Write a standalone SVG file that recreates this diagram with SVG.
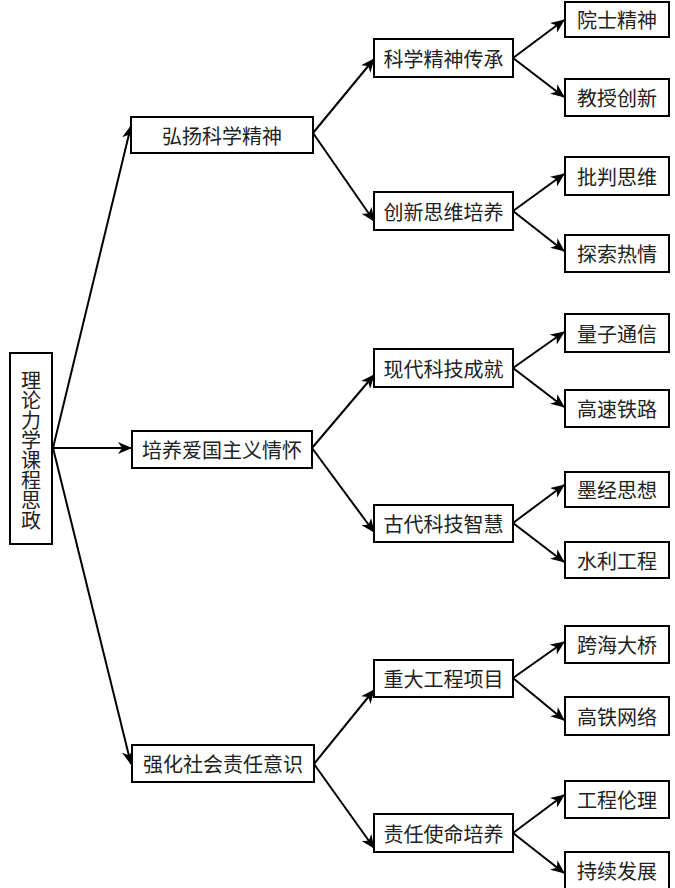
<svg xmlns="http://www.w3.org/2000/svg" width="675" height="888" viewBox="0 0 675 888">
<style>
rect{fill:#fff;stroke:#000;stroke-width:2}
text{font-family:"Noto Sans CJK SC","Noto Sans",sans-serif;font-size:20px;fill:#222;text-anchor:middle;dominant-baseline:central}
.vert{writing-mode:vertical-rl;text-orientation:upright;letter-spacing:0}
#edges line{stroke:#000;stroke-width:2;marker-end:url(#ah)}
</style>
<defs>
<marker id="ah" markerUnits="userSpaceOnUse" markerWidth="14" markerHeight="12" viewBox="0 0 14 12" refX="13" refY="6" orient="auto">
<path d="M0,0 L14,6 L0,12 L4,6 z" fill="#000"/>
</marker>
</defs>
<rect x="0" y="0" width="675" height="888" style="stroke:none"/>
<g id="edges">
<line x1="53" y1="448" x2="131" y2="126"/>
<line x1="53" y1="448" x2="131" y2="448"/>
<line x1="53" y1="448" x2="131" y2="764"/>
<line x1="313" y1="133" x2="374" y2="59"/>
<line x1="313" y1="133" x2="374" y2="221"/>
<line x1="312" y1="448" x2="374" y2="375"/>
<line x1="312" y1="448" x2="374" y2="532"/>
<line x1="314" y1="764" x2="374" y2="690"/>
<line x1="314" y1="764" x2="374" y2="848"/>
<line x1="513" y1="58" x2="564" y2="20"/>
<line x1="513" y1="58" x2="564" y2="97"/>
<line x1="513" y1="211" x2="564" y2="174"/>
<line x1="513" y1="211" x2="564" y2="251"/>
<line x1="513" y1="368" x2="564" y2="332"/>
<line x1="513" y1="368" x2="564" y2="407"/>
<line x1="513" y1="523" x2="564" y2="485"/>
<line x1="513" y1="523" x2="564" y2="562"/>
<line x1="513" y1="678" x2="564" y2="642"/>
<line x1="513" y1="678" x2="564" y2="720"/>
<line x1="513" y1="833" x2="564" y2="795"/>
<line x1="513" y1="833" x2="564" y2="873"/>
</g>
<g id="root"><rect x="10" y="353" width="42" height="191"/>
<text class="vert" x="31" y="450">理论力学课程思政</text></g>
<g id="n1"><rect x="131" y="117" width="182" height="36"/><text x="222" y="135">弘扬科学精神</text></g>
<g id="n2"><rect x="132" y="431" width="180" height="37"/><text x="222" y="449">培养爱国主义情怀</text></g>
<g id="n3"><rect x="132" y="745" width="182" height="37"/><text x="223" y="763">强化社会责任意识</text></g>
<g id="n11"><rect x="374" y="39" width="139" height="38"/><text x="443.5" y="58">科学精神传承</text></g>
<g id="n12"><rect x="374" y="192" width="139" height="38"/><text x="443.5" y="211">创新思维培养</text></g>
<g id="n21"><rect x="374" y="349" width="139" height="38"/><text x="443.5" y="368">现代科技成就</text></g>
<g id="n22"><rect x="374" y="505" width="139" height="37"/><text x="443.5" y="523">古代科技智慧</text></g>
<g id="n31"><rect x="374" y="660" width="139" height="37"/><text x="443.5" y="678">重大工程项目</text></g>
<g id="n32"><rect x="374" y="814" width="139" height="38"/><text x="443.5" y="833">责任使命培养</text></g>
<g id="l1"><rect x="565" y="2" width="104" height="35"/><text x="617" y="19">院士精神</text></g>
<g id="l2"><rect x="565" y="79" width="104" height="37"/><text x="617" y="97">教授创新</text></g>
<g id="l3"><rect x="565" y="157" width="104" height="38"/><text x="617" y="176">批判思维</text></g>
<g id="l4"><rect x="565" y="235" width="104" height="37"/><text x="617" y="253">探索热情</text></g>
<g id="l5"><rect x="565" y="314" width="104" height="38"/><text x="617" y="333">量子通信</text></g>
<g id="l6"><rect x="565" y="390" width="104" height="37"/><text x="617" y="408">高速铁路</text></g>
<g id="l7"><rect x="565" y="472" width="104" height="35"/><text x="617" y="489">墨经思想</text></g>
<g id="l8"><rect x="565" y="542" width="104" height="36"/><text x="617" y="560">水利工程</text></g>
<g id="l9"><rect x="565" y="626" width="104" height="37"/><text x="617" y="644">跨海大桥</text></g>
<g id="l10"><rect x="565" y="697" width="104" height="38"/><text x="617" y="716">高铁网络</text></g>
<g id="l11"><rect x="565" y="781" width="104" height="37"/><text x="617" y="799">工程伦理</text></g>
<g id="l12"><rect x="565" y="852" width="104" height="38"/><text x="617" y="870">持续发展</text></g>
</svg>
